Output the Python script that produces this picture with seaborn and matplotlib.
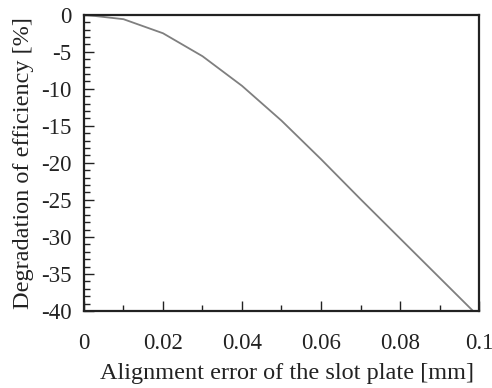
import matplotlib
matplotlib.use("Agg")
import matplotlib.pyplot as plt
from matplotlib.ticker import MultipleLocator
import numpy as np
import pandas as pd
import seaborn as sns

# Alignment error of the slot plate [mm] and the resulting efficiency loss [%]
alignment_error = [0.0, 0.01, 0.02, 0.03, 0.04, 0.05, 0.06, 0.07, 0.08, 0.09, 0.10]
degradation = [0.0, -0.6, -2.5, -5.6, -9.6, -14.3, -19.5, -24.9, -30.2, -35.5, -40.8]

x_ticks = [0, 0.02, 0.04, 0.06, 0.08, 0.1]
x_tick_labels = ["0", "0.02", "0.04", "0.06", "0.08", "0.1"]
y_ticks = [0, -5, -10, -15, -20, -25, -30, -35, -40]
y_tick_labels = ["0", "-5", "-10", "-15", "-20", "-25", "-30", "-35", "-40"]

sns.set_style("white")
plt.rcParams["font.family"] = ["Liberation Serif", "DejaVu Serif"]
plt.rcParams["axes.unicode_minus"] = False

df = pd.DataFrame({"error": alignment_error, "degradation": degradation})

fig = plt.figure(figsize=(4.92, 3.88), dpi=100)
ax = fig.add_axes([0.1707, 0.1985, 0.8029, 0.7635])

sns.lineplot(data=df, x="error", y="degradation", ax=ax,
             color="#7f7f7f", linewidth=1.3)

ax.set_xlim(0, 0.1)
ax.set_ylim(-40, 0)
ax.set_xticks(x_ticks)
ax.set_xticklabels(x_tick_labels)
ax.set_yticks(y_ticks)
ax.set_yticklabels(y_tick_labels)
ax.xaxis.set_minor_locator(MultipleLocator(0.01))
ax.yaxis.set_minor_locator(MultipleLocator(1))

ax.tick_params(axis="both", which="both", direction="in", colors="#222222",
               labelcolor="#222222", labelsize=16.5)
ax.tick_params(axis="x", which="major", length=7, width=1.0, pad=16,
               bottom=True, top=False)
ax.tick_params(axis="x", which="minor", length=4, width=1.0,
               bottom=True, top=False)
ax.tick_params(axis="y", which="major", length=7, width=1.0, pad=9,
               left=True, right=False)
ax.tick_params(axis="y", which="minor", length=4, width=1.0,
               left=True, right=False)

for side in ["left", "right", "top", "bottom"]:
    ax.spines[side].set_visible(True)
    ax.spines[side].set_color("#222222")
    ax.spines[side].set_linewidth(1.6)

ax.set_xlabel("Alignment error of the slot plate [mm]", fontsize=17.5,
              color="#222222", labelpad=6)
ax.set_ylabel("Degradation of efficiency [%]", fontsize=17.5,
              color="#222222", labelpad=5)
ax.xaxis.label.set_x(0.513)

fig.savefig("out.png", dpi=100)
